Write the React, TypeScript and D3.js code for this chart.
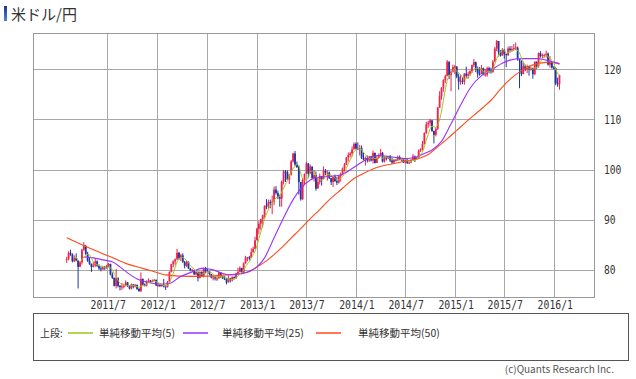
import React from "react";
import * as d3 from "d3";

const W = 636;
const H = 379;
const PLOT = { left: 33, right: 594, top: 33, bottom: 297 };

// Weekly USD/JPY candles (week ending Fridays, from 2011/2/4); open = previous close
const FIRST_WEEK_END = new Date(2011, 1, 4);
const FIRST_OPEN = 82.1;

const close2011 = [82.2,83.4,83.1,81.7, 82.3,81.9,80.6,81.5, 84.0,84.8,83.2,81.8,81.2, 80.6,80.9,81.7,80.8, 80.3,80.1,80.5,80.4, 80.8,81.2,79.1,78.4,76.8, 78.4,76.8,76.6,76.7, 76.8,77.5,76.8,76.3,77.1, 76.7,77.0,76.2,75.8, 78.2,77.1,76.9,77.7, 77.9,77.6,77.8,78.0,76.9];
const high2011 = [82.6,83.7,84.0,83.3, 82.9,83.3,81.9,81.7, 84.2,85.5,85.0,83.6,82.4, 81.3,81.6,82.2,81.9, 81.1,80.7,80.8,80.8, 81.0,81.4,81.2,79.5,78.5, 80.2,78.5,77.0,77.4, 77.2,77.9,77.6,76.9,77.3, 77.2,77.2,77.1,76.4, 79.5,78.3,77.3,77.9, 78.3,78.0,78.1,78.2,78.1];
const low2011 = [81.4,81.9,82.8,81.5, 81.6,81.7,76.3,80.6, 81.1,83.8,83.0,81.6,81.0, 79.6,80.5,80.6,80.6, 80.0,79.7,80.0,80.0, 80.2,80.5,78.9,78.2,76.7, 76.3,76.5,75.9,76.0, 76.3,76.7,76.6,76.1,76.1, 76.3,76.5,76.0,75.6, 75.6,76.9,76.7,76.7, 77.5,77.5,77.6,77.8,76.8];

const close2012 = [77.0,76.8,77.0,76.7, 76.6,77.6,79.6,81.2, 81.7,82.1,83.4,82.4,82.9, 81.6,80.8,81.6,80.3, 79.9,79.9,79.1,79.6,78.4, 79.6,78.7,80.4,79.8, 79.7,79.2,78.5,78.5, 78.3,78.3,79.5,78.7,78.3, 78.2,77.5,78.3,77.9, 78.6,78.4,79.3,79.6, 80.4,79.5,81.3,82.4,82.5, 82.4,83.5,84.2,85.9];
const high2012 = [77.3,77.1,77.2,78.2, 76.9,77.8,79.7,81.2, 81.9,82.3,84.2,83.6,83.2, 83.3,81.8,81.8,81.7, 80.4,80.2,80.0,79.8,79.7, 79.7,79.7,80.5,80.6, 80.2,79.7,79.2,78.8, 78.8,78.8,79.7,79.5,78.8, 78.8,78.3,78.9,78.4, 78.7,78.7,79.4,80.4, 80.7,80.3,81.5,82.8,82.6, 82.8,84.3,84.6,86.6];
const low2012 = [76.6,76.6,76.6,76.5, 76.0,76.5,77.5,79.5, 80.5,80.9,82.0,82.0,81.8, 81.4,80.3,80.6,80.2, 79.7,79.6,79.0,79.0,77.7, 78.3,78.7,78.5,79.3, 79.6,78.9,78.3,77.9, 77.9,77.8,78.3,78.4,78.2, 78.0,77.1,77.5,77.5, 77.7,78.1,78.2,79.2, 79.5,79.1,79.2,81.2,81.7, 81.9,82.4,83.5,84.2];

const close2013 = [88.2,89.2,90.1,90.9, 92.8,92.7,93.5,93.4, 93.6,96.0,95.3,94.5,94.2, 97.6,99.6,99.5,98.0, 99.0,101.6,103.2,101.0,100.5, 97.5,94.1,97.9,99.1, 101.2,99.2,100.6,98.3, 98.9,96.2,97.5,98.7,98.1, 99.7,99.4,99.4,98.3, 97.5,98.6,97.7,97.4, 98.7,99.1,100.2,101.0,102.4, 102.9,103.2,104.0,105.1];
const high2013 = [88.4,89.7,90.2,91.0, 92.8,94.1,94.0,94.0, 94.8,96.6,96.7,95.8,95.0, 97.8,99.9,99.9,99.8, 99.1,101.9,103.3,103.7,101.6, 100.8,97.0,98.3,99.2, 101.5,101.3,101.0,100.5, 99.9,99.6,98.4,99.2,98.6, 100.6,100.1,99.8,99.6, 98.3,98.8,99.0,98.5, 98.8,99.4,100.4,101.3,102.5, 103.4,103.5,104.6,105.4];
const low2013 = [85.9,87.1,88.0,88.5, 90.3,92.1,92.2,92.3, 91.1,92.9,95.0,94.1,92.6, 92.6,97.0,97.5,97.9, 97.1,98.8,101.4,100.7,100.3, 95.0,93.8,93.9,97.0, 99.6,98.3,99.3,98.1, 97.6,95.8,96.2,97.0,96.8, 98.1,98.9,97.8,98.1, 96.9,96.5,97.5,96.9, 97.2,97.6,98.9,99.6,100.9, 101.6,102.4,102.6,104.0];

const close2014 = [104.2,104.1,104.3,102.3,102.0, 102.3,101.8,102.6,101.8, 103.3,101.3,102.3,102.8, 103.3,101.6,102.4,102.2, 102.6,101.8,101.4,101.9,101.8, 102.5,102.0,102.0,101.4, 102.0,101.3,101.4,101.8, 102.6,102.0,102.4,103.8,104.1, 105.1,107.3,109.0,109.3, 109.8,107.7,106.9,108.1,112.3, 114.6,116.3,117.8,118.6, 121.5,118.8,119.5,120.4];
const high2014 = [105.4,105.4,104.9,104.8,103.4, 102.6,102.8,102.7,102.7, 103.8,103.4,102.8,103.2, 104.1,103.5,102.6,102.7, 102.7,102.9,102.4,102.1,102.1, 102.8,102.8,102.3,102.1, 102.2,102.0,101.6,102.0, 103.1,102.8,102.5,104.0,104.2, 105.7,107.4,109.5,109.7, 110.1,109.0,107.6,108.4,112.5, 115.6,116.4,118.0,118.9, 121.8,121.5,119.8,120.9];
const low2014 = [104.0,103.9,102.8,102.1,101.8, 100.8,101.4,101.5,101.6, 101.2,101.2,101.3,102.1, 102.7,101.4,101.4,101.8, 102.1,101.5,101.1,101.3,101.6, 101.8,101.9,101.6,101.3, 101.2,101.1,101.1,101.3, 101.8,101.5,102.0,102.3,103.5, 103.8,105.0,107.1,108.3, 108.6,107.5,105.2,106.6,107.9, 112.3,113.9,115.5,117.2, 118.6,118.0,115.6,119.3];

const close2015 = [120.5,118.5,117.5,117.7,117.5, 119.1,118.7,119.0,119.6, 120.8,121.4,120.0,119.1, 119.0,120.2,118.9,118.9, 120.2,119.7,119.4,121.5,124.1, 125.6,123.4,122.7,123.9, 123.0,122.8,124.1,123.8,124.0, 124.2,124.3,122.0,121.7, 119.0,120.6,120.0,120.6, 119.9,120.2,119.0,121.5,120.6, 123.2,122.6,122.8,122.8, 123.1,120.9,121.4,120.3];
const high2015 = [120.8,120.6,119.1,118.9,118.4, 119.2,120.5,119.5,119.8, 120.9,122.0,121.5,120.5, 120.4,120.8,120.3,120.0, 120.5,120.5,120.3,121.8,124.4, 125.8,125.6,123.8,124.2, 123.7,123.1,124.5,124.6,124.6, 125.0,125.3,124.5,121.8, 121.7,121.3,120.9,120.9, 120.7,120.5,120.3,121.5,121.5, 123.3,123.6,123.1,123.0, 123.7,123.3,122.6,121.4];
const low2015 = [119.0,118.2,115.9,116.9,117.0, 116.9,118.3,118.1,118.7, 119.2,120.4,119.4,118.3, 118.7,119.0,118.8,118.5, 118.5,119.2,119.1,119.3,121.5, 123.6,122.5,122.5,122.8, 122.1,120.4,122.6,123.3,123.6, 123.7,123.8,121.7,116.2, 118.6,119.2,119.6,119.2, 118.7,119.7,118.1,118.8,120.0, 120.3,122.3,122.2,122.3, 122.3,120.7,120.3,120.1];

const close2016 = [120.2,117.2,117.0,118.8];
const high2016 = [120.6,120.4,118.3,118.9];
const low2016 = [119.9,116.8,116.5,115.9];

// Moving averages (week index -> value)
const ma25Week = [9,14,19,24,28,32,37,42,49,54,59,66,71,77,82,86,91,96,100,104,109,114,119,123,128,133,138,144,150,157,164,171,178,183,188,192,197,202,207,212,218,223,228,233,239,247,252,256,259];
const ma25Value = [82.6,82.4,82.0,81.6,80.6,79.4,78.2,77.6,77.2,77.3,78.5,79.6,80.3,80.0,79.3,79.0,79.2,79.7,80.6,82.4,86.4,90.4,94.0,96.2,97.9,98.5,98.6,98.9,100.2,101.9,102.8,102.5,102.2,102.4,103.2,103.9,105.6,109.1,112.8,116.2,118.7,119.8,121.0,121.8,122.1,122.1,121.8,121.4,121.0];
const ma50Week = [0,14,23,31,40,49,52,66,84,96,100,105,110,115,120,124,128,133,137,142,146,151,157,163,172,181,185,190,195,200,205,210,214,219,223,228,232,236,240,244,249,254,259];
const ma50Value = [86.4,84.0,82.6,81.3,80.3,79.3,79.0,78.7,79.0,79.7,80.6,81.8,83.4,85.2,87.1,88.6,90.2,92.0,93.6,95.3,96.6,98.2,99.4,100.4,101.2,101.9,102.2,103.0,104.5,106.1,107.8,109.5,110.8,112.4,113.8,116.0,117.6,118.9,119.9,120.7,121.2,121.4,121.1];

const xTickLabels = ["2011/7","2012/1","2012/7","2013/1","2013/7","2014/1","2014/7","2015/1","2015/7","2016/1"];
const yTicks = [80, 90, 100, 110, 120];

const legendLabels = ["単純移動平均(5)", "単純移動平均(25)", "単純移動平均(50)"];
const legendColors = ["#9fc41a", "#9b30ff", "#ff4a1c"];

const UP = "#f2204c";
const DOWN = "#1f35a6";

const closes = [...close2011, ...close2012, ...close2013, ...close2014, ...close2015, ...close2016];
const highs = [...high2011, ...high2012, ...high2013, ...high2014, ...high2015, ...high2016];
const lows = [...low2011, ...low2012, ...low2013, ...low2014, ...low2015, ...low2016];

export default function App() {
  const x = d3
    .scaleTime()
    .domain([new Date(2010, 9, 1), new Date(2016, 4, 26)])
    .range([PLOT.left, PLOT.right]);
  const y = d3.scaleLinear().domain([74.6, 127.2]).range([PLOT.bottom, PLOT.top]);
  const weekX = (i: number) => x(d3.timeDay.offset(FIRST_WEEK_END, 7 * i - 2));

  const candles = closes.map((c, i) => {
    const o = i === 0 ? FIRST_OPEN : closes[i - 1];
    const h = Math.max(highs[i], o, c);
    const l = Math.min(lows[i], o, c);
    return { i, o, h, l, c };
  });

  const ma5 = closes
    .map((_, i) => (i >= 4 ? { i, v: d3.mean(closes.slice(i - 4, i + 1)) as number } : null))
    .filter(Boolean) as { i: number; v: number }[];
  const ma25 = ma25Week.map((w, k) => ({ i: w, v: ma25Value[k] }));
  const ma50 = ma50Week.map((w, k) => ({ i: w, v: ma50Value[k] }));

  const line = d3
    .line<{ i: number; v: number }>()
    .x((d) => weekX(d.i))
    .y((d) => y(d.v))
    .curve(d3.curveMonotoneX);

  const tickDate = (s: string) => {
    const [yy, mm] = s.split("/").map(Number);
    return new Date(yy, mm - 1, 1);
  };

  const mono = "'DejaVu Sans Mono', monospace";
  const jp = "'Noto Sans CJK JP', sans-serif";

  const legendX = [68, 183, 316];
  const legendTextX = [99, 222, 358];

  return (
    <svg
      width={W}
      height={H}
      style={{ position: "absolute", left: 0, top: 0, background: "#fff" }}
    >
      <defs>
        <linearGradient id="titleBar" x1="0" y1="0" x2="0" y2="1">
          <stop offset="0" stopColor="#1a3587" />
          <stop offset="1" stopColor="#4f83d6" />
        </linearGradient>
        <clipPath id="plotClip">
          <rect x={PLOT.left} y={PLOT.top} width={PLOT.right - PLOT.left} height={PLOT.bottom - PLOT.top} />
        </clipPath>
      </defs>
      <rect x={0} y={0} width={W} height={H} fill="#fff" />

      {/* title */}
      <rect x={4} y={6} width={3} height={15} fill="url(#titleBar)" />
      <text x={11} y={19.5} fontFamily={jp} fontSize={15} fill="#333">
        米ドル/円
      </text>

      {/* grid */}
      {yTicks.map((t) => (
        <line key={"gy" + t} x1={PLOT.left} x2={PLOT.right} y1={Math.round(y(t)) + 0.5} y2={Math.round(y(t)) + 0.5} stroke="#a8a8a8" strokeWidth={1} />
      ))}
      {xTickLabels.map((s) => {
        const xx = Math.round(x(tickDate(s))) + 0.5;
        return <line key={"gx" + s} x1={xx} x2={xx} y1={PLOT.top} y2={PLOT.bottom} stroke="#a8a8a8" strokeWidth={1} />;
      })}
      <rect
        x={PLOT.left + 0.5}
        y={PLOT.top + 0.5}
        width={PLOT.right - PLOT.left}
        height={PLOT.bottom - PLOT.top}
        fill="none"
        stroke="#999"
        strokeWidth={1}
      />

      {/* candles */}
      <g clipPath="url(#plotClip)">
        {candles.map((d) => {
          const cx = weekX(d.i);
          const col = d.c >= d.o ? UP : DOWN;
          const top = y(Math.max(d.o, d.c));
          const bot = y(Math.min(d.o, d.c));
          return (
            <g key={d.i}>
              <line x1={cx} x2={cx} y1={y(d.h)} y2={y(d.l)} stroke={col} strokeWidth={1} />
              <rect x={cx - 0.9} y={top} width={1.8} height={Math.max(1, bot - top)} fill={col} />
            </g>
          );
        })}
        <path d={line(ma50) || ""} fill="none" stroke={legendColors[2]} strokeWidth={1.1} />
        <path d={line(ma25) || ""} fill="none" stroke={legendColors[1]} strokeWidth={1.1} />
        <path d={line(ma5) || ""} fill="none" stroke={legendColors[0]} strokeWidth={1} />
      </g>

      {/* axis labels */}
      {yTicks.map((t) => (
        <text
          key={"ty" + t}
          x={604}
          y={y(t) + 4.5}
          fontFamily={mono}
          fontSize={12}
          textLength={String(t).length * 5.8}
          lengthAdjust="spacingAndGlyphs"
          fill="#333"
        >
          {t}
        </text>
      ))}
      {xTickLabels.map((s) => {
        const xx = x(tickDate(s)) + 1;
        const len = s.length * 5.9;
        return (
          <text
            key={"tx" + s}
            x={xx - len / 2}
            y={309}
            fontFamily={mono}
            fontSize={12}
            textLength={len}
            lengthAdjust="spacingAndGlyphs"
            fill="#333"
          >
            {s}
          </text>
        );
      })}

      {/* legend */}
      <rect x={33.5} y={313.5} width={595} height={47} fill="#fff" stroke="#555" strokeWidth={1} />
      <text x={40} y={337} fontFamily={jp} fontSize={10} fill="#333">
        上段:
      </text>
      {legendLabels.map((lab, k) => (
        <g key={lab}>
          <line x1={legendX[k]} x2={legendX[k] + 25} y1={333} y2={333} stroke={legendColors[k]} strokeWidth={1.5} />
          <text x={legendTextX[k]} y={337} fontFamily={jp} fontSize={10.5} fill="#333">
            {lab}
          </text>
        </g>
      ))}

      <text x={614} y={373} textAnchor="end" fontFamily={jp} fontSize={10} fill="#555">
        (c)Quants Research Inc.
      </text>
    </svg>
  );
}
